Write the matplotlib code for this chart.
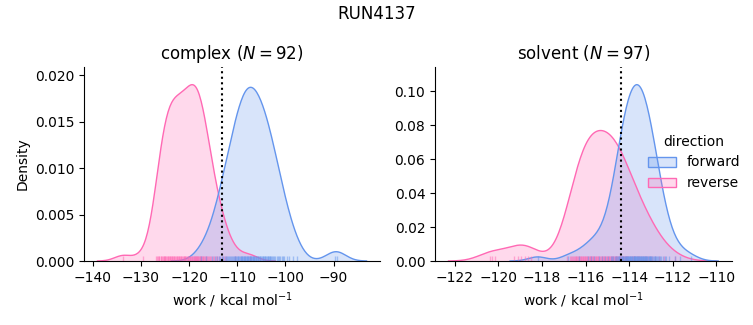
import numpy as np
import matplotlib
matplotlib.use("Agg")
import matplotlib.pyplot as plt
from matplotlib.patches import Patch

# ---------------- data (work values, kcal/mol) ----------------
complex_forward = [
    -117.6, -116.4, -115.3,
    -114.6, -114.2,
    -113.8, -113.5, -113.2,
    -112.9, -112.6, -112.4, -112.1,
    -111.9, -111.7, -111.5, -111.3, -111.1,
    -110.9, -110.7, -110.55, -110.4, -110.25, -110.1,
    -109.9, -109.75, -109.6, -109.45, -109.3, -109.2, -109.05,
    -108.95, -108.8, -108.7, -108.55, -108.45, -108.3, -108.2, -108.05,
    -107.95, -107.8, -107.7, -107.55, -107.45, -107.3, -107.2, -107.05,
    -106.95, -106.8, -106.7, -106.55, -106.45, -106.3, -106.2, -106.05,
    -105.9, -105.75, -105.6, -105.45, -105.3, -105.2, -105.05,
    -104.9, -104.75, -104.6, -104.45, -104.3, -104.15, -104.05,
    -103.9, -103.7, -103.55, -103.4, -103.25, -103.1,
    -102.9, -102.7, -102.5, -102.3, -102.1,
    -101.85, -101.6, -101.35, -101.1,
    -100.8, -100.5, -100.2,
    -99.7, -99.2,
    -98.4, -97.5,
    -89.8, -89.2,
]
complex_reverse = [
    -133.7, -129.5,
    -126.8, -126.6, -126.45, -126.3, -126.15,
    -125.9, -125.75, -125.6, -125.45, -125.3, -125.15, -125.05,
    -124.9, -124.75, -124.6, -124.45, -124.3, -124.15, -124.05,
    -123.9, -123.75, -123.6, -123.45, -123.3, -123.15, -123.05,
    -122.9, -122.75, -122.6, -122.45, -122.3, -122.15, -122.05,
    -121.9, -121.75, -121.6, -121.45, -121.3, -121.15, -121.05,
    -120.9, -120.75, -120.6, -120.45, -120.3, -120.15, -120.05,
    -119.9, -119.75, -119.6, -119.45, -119.3, -119.15, -119.05,
    -118.95, -118.8, -118.7, -118.6, -118.55, -118.45, -118.3, -118.2, -118.05,
    -117.95, -117.8, -117.7, -117.55, -117.45, -117.3, -117.2, -117.05,
    -116.9, -116.7, -116.55, -116.4, -116.25, -116.1,
    -115.85, -115.6, -115.35, -115.1,
    -114.8, -114.45, -114.1,
    -113.7, -113.2,
    -112.8, -112.3,
    -110.4, -107.4,
]
solvent_forward = [
    -118.2, -116.8,
    -116.3,
    -115.9, -115.75, -115.6,
    -115.4, -115.25, -115.1,
    -114.95, -114.85, -114.78,
    -114.72, -114.66, -114.61, -114.56, -114.51,
    -114.48, -114.45, -114.42, -114.38, -114.35, -114.32, -114.29, -114.26,
    -114.24, -114.21, -114.19, -114.16, -114.14, -114.11, -114.09, -114.06, -114.04, -114.01,
    -113.99, -113.97, -113.94, -113.92, -113.9, -113.87, -113.85, -113.83, -113.8, -113.78, -113.76,
    -113.74, -113.72, -113.69, -113.67, -113.65, -113.62, -113.6, -113.58, -113.55, -113.53, -113.51,
    -113.49, -113.47, -113.44, -113.42, -113.4, -113.37, -113.35, -113.33, -113.3, -113.28, -113.26,
    -113.24, -113.21, -113.19, -113.16, -113.14, -113.11, -113.09, -113.06, -113.04, -113.01,
    -112.98, -112.94, -112.9, -112.87, -112.83, -112.8, -112.77,
    -112.72, -112.67, -112.62, -112.57, -112.52,
    -112.45, -112.37, -112.29,
    -112.15,
    -111.9, -111.65,
    -111.18,
]
solvent_reverse = [
    -120.4, -120.3, -120.15,
    -119.3, -119.1, -118.95, -118.8, -118.65, -118.5,
    -116.87,
    -116.72, -116.67, -116.62, -116.57, -116.52,
    -116.48, -116.45, -116.42, -116.39, -116.35, -116.32, -116.29, -116.26,
    -116.23, -116.2, -116.17, -116.14, -116.1, -116.07, -116.04, -116.01,
    -115.98, -115.95, -115.92, -115.89, -115.85, -115.82, -115.79, -115.76,
    -115.73, -115.7, -115.67, -115.64, -115.6, -115.57, -115.54, -115.51,
    -115.48, -115.44, -115.41, -115.37, -115.33, -115.3, -115.26,
    -115.23, -115.2, -115.17, -115.14, -115.1, -115.07, -115.04, -115.01,
    -114.98, -114.94, -114.91, -114.87, -114.85, -114.83, -114.79, -114.76,
    -114.73, -114.7, -114.66, -114.62, -114.6, -114.59, -114.55, -114.52,
    -114.48, -114.44, -114.4, -114.39, -114.35, -114.3, -114.26,
    -114.23, -114.18, -114.15, -114.13, -114.08, -114.03,
    -113.96, -113.89, -113.82, -113.76,
    -113.72, -113.66, -113.59, -113.53,
    -113.45, -113.37, -113.29,
    -113.22, -113.13, -113.04,
    -112.93, -112.8,
    -112.63,
    -112.38,
    -111.9,
]
free_energy = {"complex": -113.24, "solvent": -114.37}
phases = ["complex", "solvent"]
directions = ["forward", "reverse"]
colors = {"forward": "#6495ED", "reverse": "#FF69B4"}
data = {
    ("complex", "forward"): complex_forward,
    ("complex", "reverse"): complex_reverse,
    ("solvent", "forward"): solvent_forward,
    ("solvent", "reverse"): solvent_reverse,
}
total_n = sum(len(v) for v in data.values())


def kde(values, gridsize=200, cut=3):
    x = np.asarray(values, float)
    n = len(x)
    bw = n ** (-1 / 5) * np.std(x, ddof=1)
    grid = np.linspace(x.min() - cut * bw, x.max() + cut * bw, gridsize)
    dens = np.exp(-0.5 * ((grid[:, None] - x[None, :]) / bw) ** 2).sum(1)
    dens /= n * bw * np.sqrt(2 * np.pi)
    return grid, dens * n / total_n


fig = plt.figure(figsize=(7.53, 3.25), dpi=100)
ax1 = fig.add_axes([0.1116, 0.1969, 0.3930, 0.5969])
ax2 = fig.add_axes([0.5777, 0.1969, 0.3940, 0.5969])

for ax, phase in zip([ax1, ax2], phases):
    ymax = 0
    for d in directions[::-1]:
        vals = data[(phase, d)]
        g, y = kde(vals)
        ymax = max(ymax, y.max())
        ax.fill_between(g, 0, y, facecolor=colors[d], alpha=0.25, lw=0)
        ax.plot(g, y, color=colors[d], lw=1.0)
    for d in directions[::-1]:
        vals = data[(phase, d)]
        ax.vlines(vals, 0, 0.025, transform=ax.get_xaxis_transform(),
                  color=colors[d], alpha=0.5, lw=1)
    ax.axvline(free_energy[phase], color="k", ls=":", lw=1.5)
    ax.set_ylim(0, ymax * 1.10)
    n = len(data[(phase, "forward")])
    ax.set_title(f"{phase} ($N = {n}$)", fontsize=12)
    ax.set_xlabel("work / kcal mol$^{-1}$")
    for s in ["top", "right"]:
        ax.spines[s].set_visible(False)

ax1.set_ylabel("Density")

handles = [Patch(facecolor=matplotlib.colors.to_rgba(colors[d], 0.25),
                 edgecolor=colors[d], lw=1) for d in directions]
fig.legend(handles, directions, title="direction", loc="center right",
           bbox_to_anchor=(1.0, 0.5), frameon=False, fontsize=10, title_fontsize=10)
fig.suptitle("RUN4137", fontsize=12, y=0.985)

fig.savefig("out.png", dpi=100)
